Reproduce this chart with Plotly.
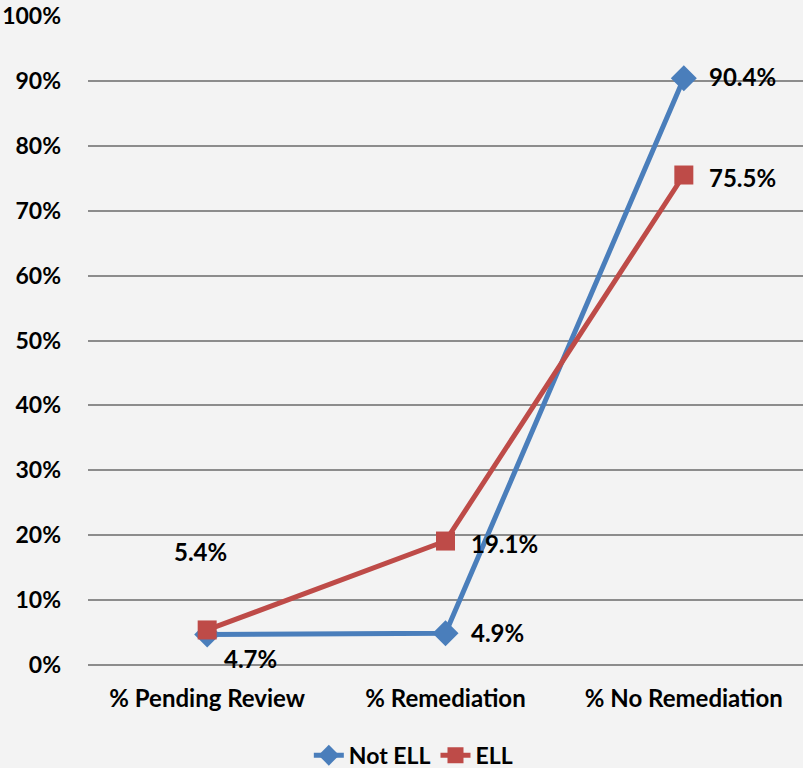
import plotly.graph_objects as go

categories = ["% Pending Review", "% Remediation", "% No Remediation"]
not_ell = [4.7, 4.9, 90.4]
ell = [5.4, 19.1, 75.5]
tick_vals = [0, 10, 20, 30, 40, 50, 60, 70, 80, 90, 100]
tick_text = [f"{v}%" for v in tick_vals]

FONT = "Lato, 'Open Sans', sans-serif"
BLUE = "#4a7ebb"
RED = "#be4b48"

fig = go.Figure()
fig.add_trace(go.Scatter(x=categories, y=not_ell, name="Not ELL", mode="lines+markers",
                         line=dict(color=BLUE, width=5),
                         marker=dict(symbol="diamond", size=20, color=BLUE)))
fig.add_trace(go.Scatter(x=categories, y=ell, name="ELL", mode="lines+markers",
                         line=dict(color=RED, width=5),
                         marker=dict(symbol="square", size=19, color=RED)))

# data labels (offsets in pixels)
label_offsets_not_ell = [(15, -24), (23, 1), (23, 2)]
label_offsets_ell = [(-35, 78), (23, -2), (23, -2)]
for series, offs in ((not_ell, label_offsets_not_ell), (ell, label_offsets_ell)):
    for c, v, (dx, dy) in zip(categories, series, offs):
        fig.add_annotation(x=c, y=v, text=f"<b>{v:.1f}%</b>", showarrow=False,
                           xanchor="left", yanchor="middle", xshift=dx, yshift=dy,
                           font=dict(family=FONT, size=24, color="#000000"))

fig.update_layout(
    width=803, height=768,
    margin=dict(l=88, r=0, t=16, b=103, autoexpand=False),
    paper_bgcolor="#f3f3f3", plot_bgcolor="#f3f3f3",
    font=dict(family=FONT, size=24, color="#000000"),
    showlegend=True,
    legend=dict(orientation="h", x=0.455, xanchor="center", y=-0.106, yanchor="top",
                font=dict(family=FONT, size=23, color="#000000", weight="bold"),
                bgcolor="rgba(0,0,0,0)", itemwidth=30),
)
fig.update_xaxes(range=[-0.5, 2.5], showgrid=False, showline=False, ticks="",
                 tickfont=dict(family=FONT, size=24, color="#000000", weight="bold"),
                 ticklabelstandoff=17)
fig.update_yaxes(range=[0, 100], tickvals=tick_vals, ticktext=tick_text,
                 showgrid=True, gridcolor="#8c8c8c", gridwidth=2,
                 zeroline=True, zerolinecolor="#8c8c8c", zerolinewidth=2,
                 showline=False, ticks="", ticklabelstandoff=26,
                 tickfont=dict(family=FONT, size=23, color="#000000", weight="bold"))

fig.write_html("out.html", config={"displayModeBar": False},
               post_script="document.body.style.margin='0';")
